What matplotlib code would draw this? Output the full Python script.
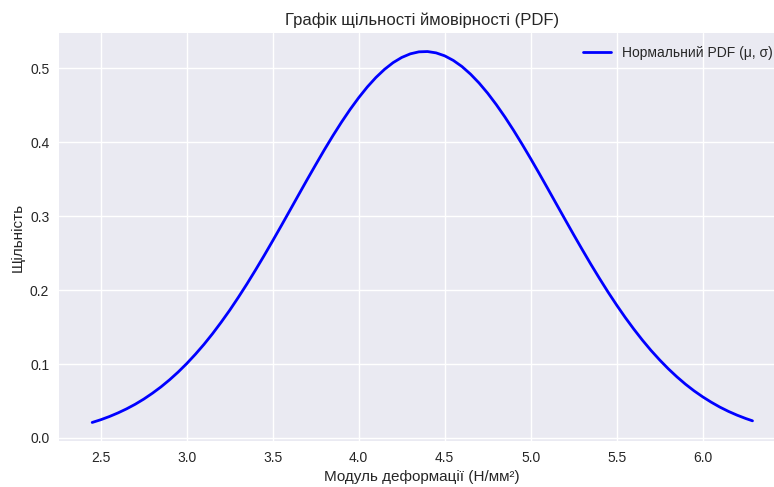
import matplotlib
matplotlib.use("Agg")
import matplotlib.pyplot as plt

# values
x_vals = [2.45, 2.50, 2.55, 2.60, 2.65, 2.70, 2.75, 2.80, 2.85, 2.90, 2.95, 3.00,
          3.05, 3.10, 3.15, 3.20, 3.25, 3.30, 3.35, 3.40, 3.45, 3.50, 3.55, 3.60,
          3.65, 3.70, 3.75, 3.80, 3.85, 3.90, 3.95, 4.00, 4.05, 4.10, 4.15, 4.20,
          4.25, 4.30, 4.35, 4.40, 4.45, 4.50, 4.55, 4.60, 4.65, 4.70, 4.75, 4.80,
          4.85, 4.90, 4.95, 5.00, 5.05, 5.10, 5.15, 5.20, 5.25, 5.30, 5.35, 5.40,
          5.45, 5.50, 5.55, 5.60, 5.65, 5.70, 5.75, 5.80, 5.85, 5.90, 5.95, 6.00,
          6.05, 6.10, 6.15, 6.20, 6.25, 6.29]
pdf_vals = [0.0210, 0.0247, 0.0290, 0.0339, 0.0394, 0.0456, 0.0526, 0.0605, 0.0691,
            0.0787, 0.0892, 0.1007, 0.1132, 0.1266, 0.1411, 0.1566, 0.1729, 0.1903,
            0.2084, 0.2273, 0.2468, 0.2669, 0.2873, 0.3080, 0.3288, 0.3495, 0.3698,
            0.3898, 0.4090, 0.4273, 0.4445, 0.4604, 0.4749, 0.4877, 0.4987, 0.5078,
            0.5148, 0.5197, 0.5224, 0.5228, 0.5210, 0.5170, 0.5108, 0.5026, 0.4923,
            0.4802, 0.4664, 0.4510, 0.4343, 0.4164, 0.3975, 0.3779, 0.3577, 0.3371,
            0.3163, 0.2956, 0.2750, 0.2548, 0.2350, 0.2159, 0.1974, 0.1798, 0.1630,
            0.1472, 0.1323, 0.1184, 0.1056, 0.0937, 0.0828, 0.0728, 0.0638, 0.0557,
            0.0484, 0.0418, 0.0360, 0.0309, 0.0264, 0.0232]

title = "Графік щільності ймовірності (PDF)"
xlabel = "Модуль деформації (Н/мм²)"
ylabel = "Щільність"
legend_label = "Нормальний PDF (μ, σ)"

plt.style.use("seaborn-v0_8")
plt.rcParams["font.family"] = ["Liberation Sans", "DejaVu Sans"]

fig = plt.figure(figsize=(7.74, 4.87), dpi=100)
ax = fig.add_axes([59 / 774, 1 - 441 / 487, (785 - 59) / 774, (441 - 33) / 487])
ax.plot(x_vals, pdf_vals, color="blue", lw=2, label=legend_label)
ax.set_title(title, fontsize=12)
ax.set_xlabel(xlabel, fontsize=11)
ax.set_ylabel(ylabel, fontsize=11)
ax.tick_params(labelsize=10)
ax.set_xticks([2.5, 3.0, 3.5, 4.0, 4.5, 5.0, 5.5, 6.0])
ax.set_xlim(2.257, 6.479)
ax.legend(loc="upper right", fontsize=10)
fig.savefig("out.png", dpi=100)
